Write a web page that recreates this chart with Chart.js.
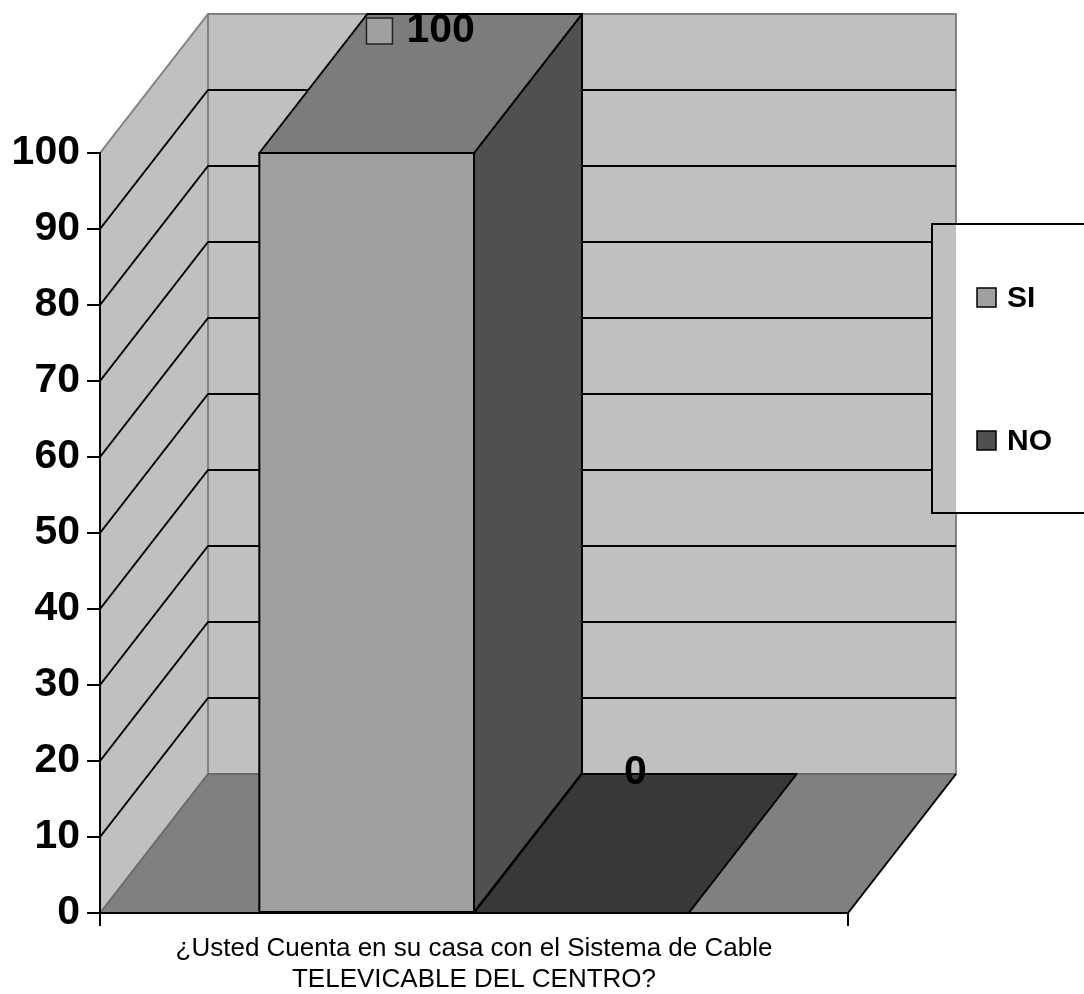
<!DOCTYPE html>
<html>
<head>
<meta charset="utf-8">
<script src="https://cdn.jsdelivr.net/npm/chart.js@4.4.1/dist/chart.umd.min.js"></script>
<style>
  html, body { margin: 0; padding: 0; background: #fff; }
  #wrap { width: 1084px; height: 994px; }
</style>
</head>
<body>
<div id="wrap"><canvas id="cableChart" width="1084" height="994"></canvas></div>
<script>
// data
let categories = [["¿Usted Cuenta en su casa con el Sistema de Cable", "TELEVICABLE DEL CENTRO?"]];
let seriesNames = ["SI", "NO"];
let siValues = [100];
let noValues = [0];
let yMin = 0;
let yMax = 100;
let yStep = 10;

// look of each series: front, top, side faces
let faceColors = [
  { front: "#a0a0a0", top: "#7c7c7c", side: "#505050" },
  { front: "#505050", top: "#383838", side: "#2c2c2c" },
];
let showKeyInLabel = [true, false];

const DX = 108;
const DY = 139;
const fontName = '"Liberation Sans", Arial, Helvetica, sans-serif';

function poly(ctx, pts, fill, stroke, lw) {
  ctx.beginPath();
  ctx.moveTo(pts[0][0], pts[0][1]);
  for (let i = 1; i < pts.length; i++) ctx.lineTo(pts[i][0], pts[i][1]);
  ctx.closePath();
  if (fill) {
    ctx.fillStyle = fill;
    ctx.fill();
  }
  if (stroke) {
    ctx.strokeStyle = stroke;
    ctx.lineWidth = lw || 2;
    ctx.lineJoin = "round";
    ctx.stroke();
  }
}

function line(ctx, pts, color, lw) {
  ctx.beginPath();
  ctx.moveTo(pts[0][0], pts[0][1]);
  for (let i = 1; i < pts.length; i++) ctx.lineTo(pts[i][0], pts[i][1]);
  ctx.strokeStyle = color;
  ctx.lineWidth = lw || 2;
  ctx.stroke();
}

// walls + floor behind the axes
const box3d = {
  id: "box3d",
  beforeDraw(chart) {
    let ctx = chart.ctx;
    let a = chart.chartArea;
    let ys = chart.scales.y;
    ctx.save();
    poly(ctx, [[a.left, a.bottom], [a.left + DX, a.bottom - DY], [a.left + DX, a.top - DY], [a.left, a.top]], "#c0c0c0");
    poly(ctx, [[a.left + DX, a.top - DY], [a.right + DX, a.top - DY], [a.right + DX, a.bottom - DY], [a.left + DX, a.bottom - DY]], "#c0c0c0", "#808080", 2);
    line(ctx, [[a.left, a.top], [a.left + DX, a.top - DY]], "#808080", 2);

    ys.ticks.forEach(function (t) {
      if (t.value <= ys.min || t.value >= ys.max) return;
      let py = ys.getPixelForValue(t.value);
      line(ctx, [[a.left, py], [a.left + DX, py - DY], [a.right + DX, py - DY]], "#000", 2);
    });

    // floor
    poly(ctx, [[a.left, a.bottom], [a.right, a.bottom], [a.right + DX, a.bottom - DY], [a.left + DX, a.bottom - DY]], "#808080");
    line(ctx, [[a.left, a.bottom], [a.left + DX, a.bottom - DY], [a.right + DX, a.bottom - DY]], "#6a6a6a", 2);
    line(ctx, [[a.right, a.bottom], [a.right + DX, a.bottom - DY]], "#000", 2);
    ctx.restore();
  },
  afterDatasetsDraw(chart) {
    let ctx = chart.ctx;
    ctx.save();
    chart.data.datasets.forEach(function (ds, i) {
      let c = faceColors[i];
      chart.getDatasetMeta(i).data.forEach(function (bar) {
        let l = bar.x - bar.width / 2;
        let r = bar.x + bar.width / 2;
        let t = bar.y;
        let b = bar.base;
        if (b - t > 0.5) {
          poly(ctx, [[l, t], [r, t], [r, b], [l, b]], c.front, "#000", 2);
          poly(ctx, [[r, t], [r + DX, t - DY], [r + DX, b - DY], [r, b]], c.side, "#000", 2);
        }
        poly(ctx, [[l, t], [r, t], [r + DX, t - DY], [l + DX, t - DY]], c.top, "#000", 2);
      });
    });
    ctx.restore();
  },
  afterDraw(chart) {
    let ctx = chart.ctx;
    let a = chart.chartArea;
    ctx.save();

    // value labels
    ctx.font = "bold 41px " + fontName;
    ctx.textBaseline = "middle";
    ctx.fillStyle = "#000";
    chart.data.datasets.forEach(function (ds, i) {
      chart.getDatasetMeta(i).data.forEach(function (bar, j) {
        let txt = String(ds.data[j]);
        let cx = bar.x + DX / 2;
        let cy = Math.max(bar.y - DY - 2, 30);
        let tw = ctx.measureText(txt).width;
        if (showKeyInLabel[i]) {
          let key = 26, gap = 14;
          let x0 = cx - (key + gap + tw) / 2;
          ctx.fillStyle = faceColors[i].front;
          ctx.fillRect(x0, cy - 12, key, 26);
          ctx.strokeStyle = "#222";
          ctx.lineWidth = 1.5;
          ctx.strokeRect(x0, cy - 12, key, 26);
          ctx.fillStyle = "#000";
          ctx.textAlign = "left";
          ctx.fillText(txt, x0 + key + gap, cy + 1);
        } else {
          ctx.textAlign = "center";
          ctx.fillText(txt, cx, cy + 1);
        }
      });
    });

    // legend box (runs off the right edge)
    let lx = 932, ly = 224, lw = 200, lh = 289;
    let wallRight = a.right + DX;
    ctx.fillStyle = "#ffffff";
    ctx.fillRect(lx, ly, lw, lh);
    ctx.fillStyle = "#c0c0c0";
    ctx.fillRect(lx, ly, wallRight - lx, lh);
    ctx.strokeStyle = "#000";
    ctx.lineWidth = 2;
    ctx.strokeRect(lx, ly, lw, lh);

    let rows = [298, 441];
    ctx.font = "bold 30px " + fontName;
    ctx.textAlign = "left";
    ctx.textBaseline = "middle";
    chart.data.datasets.forEach(function (ds, i) {
      let ry = rows[i];
      ctx.fillStyle = faceColors[i].front;
      ctx.fillRect(977, ry - 10, 19, 19);
      ctx.strokeStyle = "#000";
      ctx.lineWidth = 1.5;
      ctx.strokeRect(977, ry - 10, 19, 19);
      ctx.fillStyle = "#000";
      ctx.fillText(ds.label, 1007, ry + 1);
    });
    ctx.restore();
  },
};

const data = {
  labels: categories,
  datasets: [
    {
      label: seriesNames[0],
      data: siValues,
      backgroundColor: "rgba(0,0,0,0)",
      borderWidth: 0,
    },
    {
      label: seriesNames[1],
      data: noValues,
      backgroundColor: "rgba(0,0,0,0)",
      borderWidth: 0,
    },
  ],
};

const config = {
  type: "bar",
  data: data,
  plugins: [box3d],
  options: {
    responsive: false,
    devicePixelRatio: 1,
    animation: false,
    categoryPercentage: 0.574,
    barPercentage: 1,
    layout: { padding: { top: 153, right: 236, left: 0, bottom: 0 } },
    plugins: {
      legend: { display: false },
      tooltip: { enabled: false },
    },
    scales: {
      x: {
        afterFit: function (s) { s.height = 81; },
        grid: { drawOnChartArea: false, drawTicks: true, tickLength: 13, color: "#000", lineWidth: 2 },
        border: { display: true, color: "#000", width: 2 },
        ticks: {
          color: "#000",
          padding: 7,
          maxRotation: 0,
          font: { family: fontName, size: 26, lineHeight: 1.2 },
        },
      },
      y: {
        min: yMin,
        max: yMax,
        afterFit: function (s) { s.width = 100; },
        grid: { drawOnChartArea: false, drawTicks: true, tickLength: 13, color: "#000", lineWidth: 2 },
        border: { display: true, color: "#000", width: 2 },
        ticks: {
          stepSize: yStep,
          color: "#000",
          padding: 7,
          font: { family: fontName, size: 41, weight: "bold" },
        },
      },
    },
  },
};

const myChart = new Chart(document.getElementById("cableChart"), config);
</script>
</body>
</html>
